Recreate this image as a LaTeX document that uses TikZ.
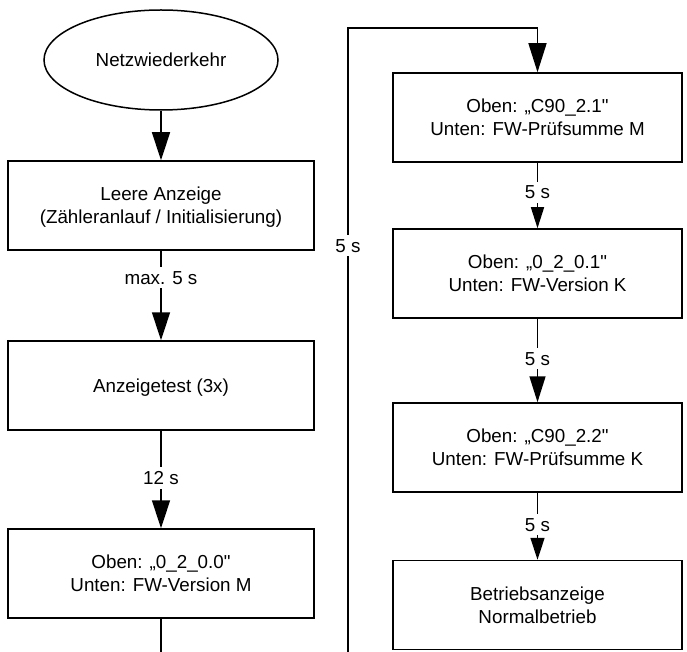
\documentclass[tikz,border=0pt]{standalone}
\usepackage{fontspec}
\setmainfont{Liberation Sans}[Ligatures=TeXOff]
\usetikzlibrary{arrows.meta,shapes.geometric}
\begin{document}
\begin{tikzpicture}[x=1pt,y=-1pt,line width=1.5pt,
  every node/.style={font=\fontsize{18.8}{23}\selectfont,text depth=0pt},
  box/.style={draw,rectangle,align=center,minimum height=89pt,inner sep=0pt},
  lbox/.style={box,minimum width=306pt},
  rbox/.style={box,minimum width=289pt},
  flowL/.style={-{Triangle[length=28pt,width=18pt]}},
  flowA/.style={-{Triangle[length=21pt,width=13pt]}},
  flowB/.style={-{Triangle[length=26pt,width=16pt]}},
  flowC/.style={-{Triangle[length=22pt,width=14pt]}},
  lab/.style={fill=white,inner xsep=1.5pt,inner ysep=4pt}]
\useasboundingbox (0,0) rectangle (687,652);
% left column
\node[draw,ellipse,minimum width=234pt,minimum height=100pt,inner sep=0pt] (ell) at (161,60) {Netzwiederkehr};
\node[lbox] (b1) at (161,205.5) {Leere Anzeige\\(Zähleranlauf / Initialisierung)};
\node[lbox] (b2) at (161,385.5) {Anzeigetest (3x)};
\node[lbox] (b3) at (161,573.5) {Oben: „0\_2\_0.0"\\Unten: FW-Version M};
\coordinate (lend) at (161,652);
% right column
\node[rbox] (r1) at (537.5,117.5) {Oben: „C90\_2.1"\\Unten: FW-Prüfsumme M};
\node[rbox] (r2) at (537.5,273.5) {Oben: „0\_2\_0.1"\\Unten: FW-Version K};
\node[rbox] (r3) at (537.5,447.5) {Oben: „C90\_2.2"\\Unten: FW-Prüfsumme K};
\node[rbox] (r4) at (537.5,605) {Betriebsanzeige\\Normalbetrieb};
\coordinate (rs) at (348,652);
\coordinate (rc) at (348,28);
% connectors
\draw[flowL] (ell) -- (b1);
\draw[flowL] (b1) -- node[lab,pos=0.30]{max. 5 s} (b2);
\draw[flowL] (b2) -- node[lab,pos=0.485]{12 s} (b3);
\draw (b3) -- (lend);
\draw[-{Triangle[length=29pt,width=18pt]}] (rs) -- node[lab,pos=0.651]{5 s} (rc) -- (rc -| r1) -- (r1);
\draw[flowA] (r1) -- node[lab,pos=0.45]{5 s} (r2);
\draw[flowB] (r2) -- node[lab,pos=0.48]{5 s} (r3);
\draw[flowC] (r3) -- node[lab,pos=0.48]{5 s} (r4);
\end{tikzpicture}
\end{document}
